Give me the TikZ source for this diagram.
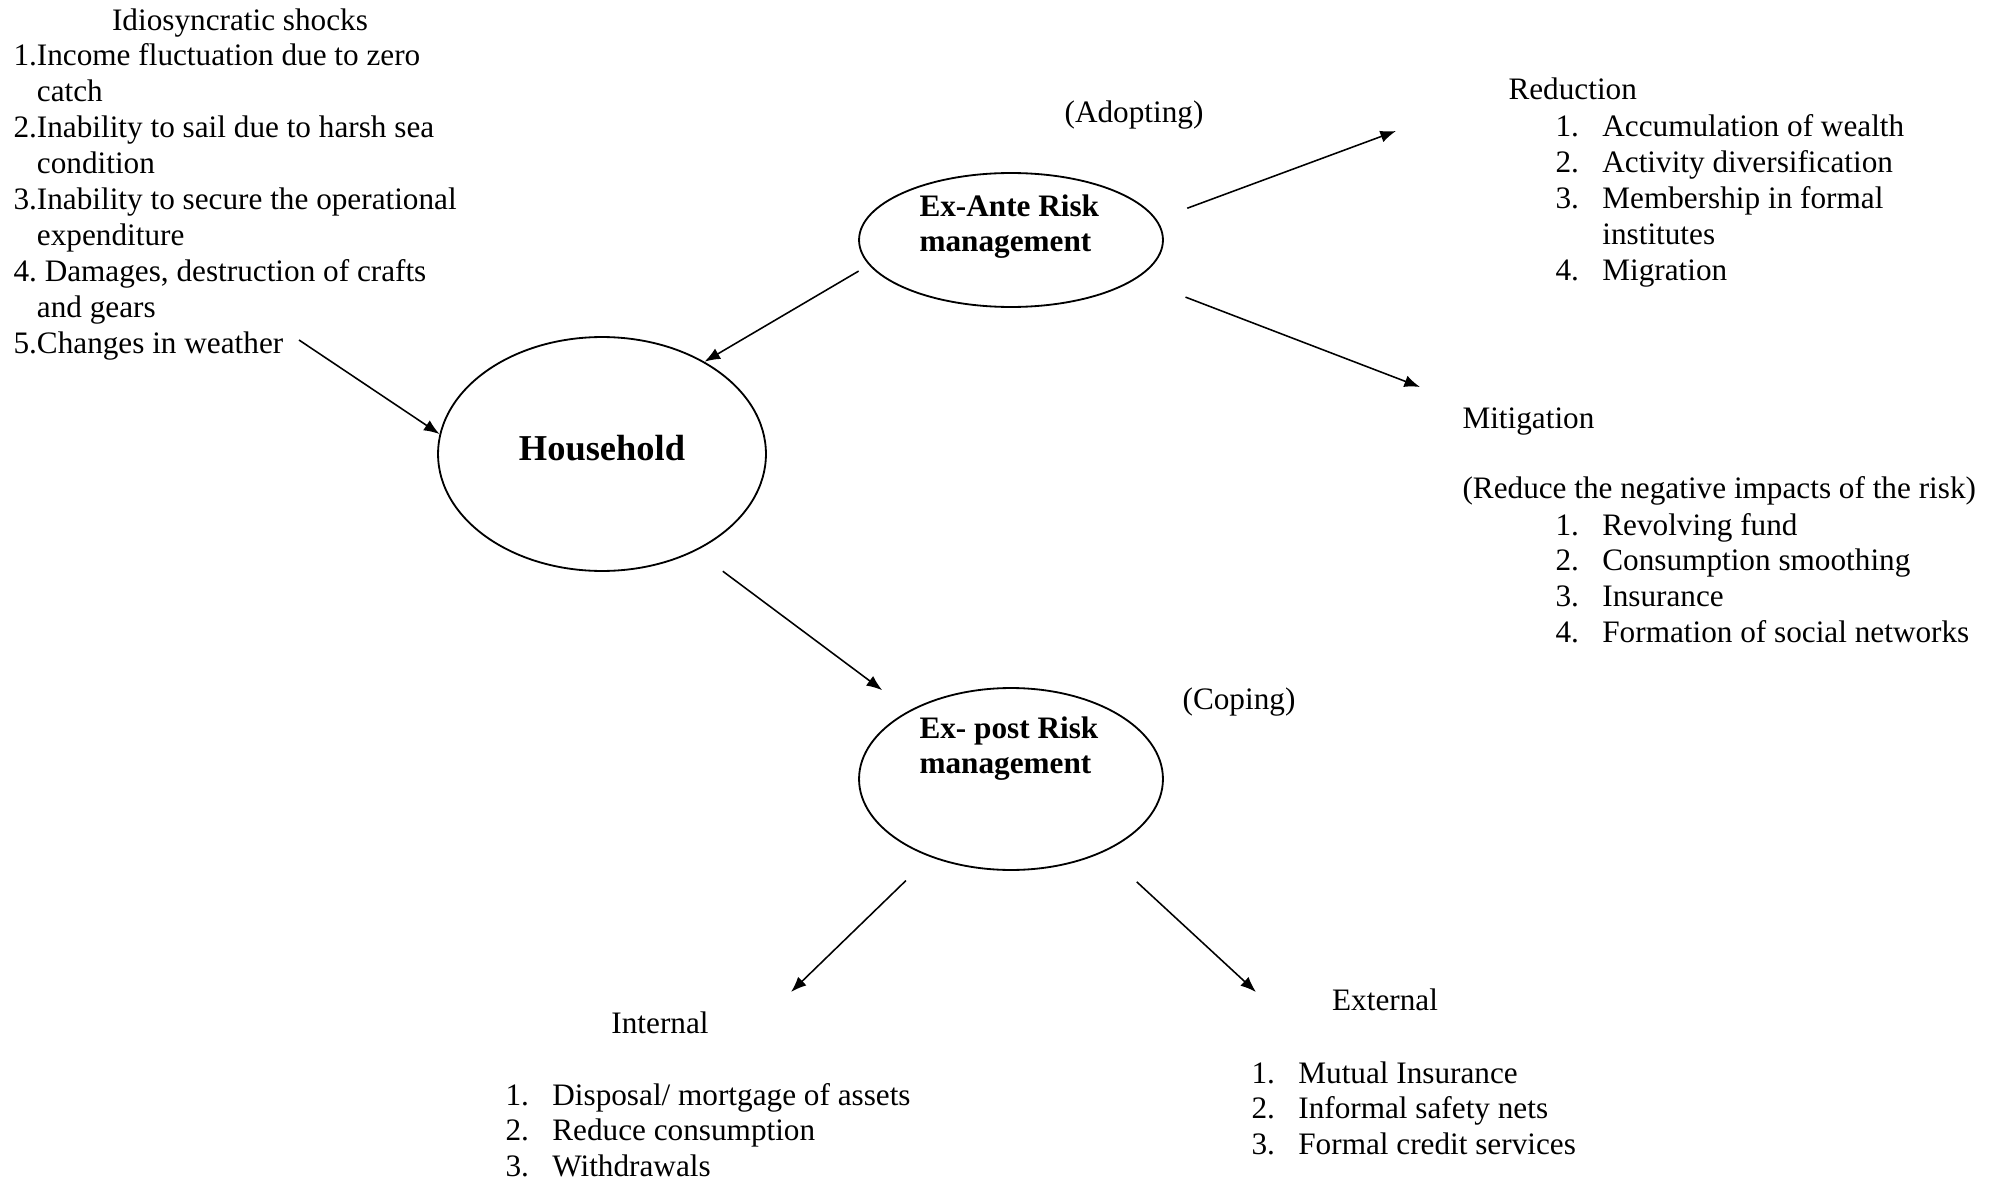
\documentclass[tikz,border=0pt]{standalone}
\usepackage{fontspec}
\setmainfont{Liberation Serif}
\usetikzlibrary{arrows.meta,shapes.geometric}
\tikzset{
  txt/.style={inner sep=0pt, font=\fontsize{12}{13.8}\selectfont},
  headtxt/.style={inner sep=0pt, font=\fontsize{12}{13.8}\selectfont\bfseries},
  bubble/.style={draw, ellipse, inner sep=0pt, line width=0.7pt},
  arr/.style={-{Latex[length=6pt,width=4.6pt]}, line width=0.6pt},
}
\newcommand{\numlist}[1]{\begin{tabular}[t]{@{}p{18pt}@{}l@{}}#1\end{tabular}}
\begin{document}
\begin{tikzpicture}[x=0.0135cm, y=-0.0135cm]
    \useasboundingbox (0,0) rectangle (1995,1180);
    \node[bubble, minimum width=4.428cm, minimum height=3.159cm] (household) at (602,454) {};
    \node[bubble, minimum width=4.104cm, minimum height=1.809cm] (exante) at (1011,240) {};
    \node[bubble, minimum width=4.104cm, minimum height=2.457cm] (expost) at (1011,779) {};
    \node[inner sep=0pt, anchor=base, font=\fontsize{14}{16}\selectfont\bfseries] (hhtxt) at (602,460) {Household};
    \node[headtxt, anchor=base west] (exantetxt) at (919,216) {\begin{tabular}[t]{@{}l@{}}Ex-Ante Risk\\management\end{tabular}};
    \node[headtxt, anchor=base west] (exposttxt) at (919,738) {\begin{tabular}[t]{@{}l@{}}Ex- post Risk\\management\end{tabular}};
    \node[txt, anchor=base] (adopting) at (1134,123) {(Adopting)};
    \node[txt, anchor=base] (coping) at (1239,709) {(Coping)};

    \node[txt, anchor=base] (shockhead) at (240,31) {Idiosyncratic shocks};
    \node[txt, anchor=base west] (shocks) at (13,66) {\begin{tabular}[t]{@{}l@{}l@{}}
        1.&Income fluctuation due to zero\\ &catch\\
        2.&Inability to sail due to harsh sea\\ &condition\\
        3.&Inability to secure the operational\\ &expenditure\\
        4.&\ Damages, destruction of crafts\\ &and gears\\
        5.&Changes in weather\end{tabular}};

    \node[txt, anchor=base west] (reduction) at (1508,100) {Reduction};
    \node[txt, anchor=base west] (redlist) at (1555,137) {\numlist{1.&Accumulation of wealth\\ 2.&Activity diversification\\ 3.&Membership in formal\\ &institutes\\ 4.&Migration}};
    \node[txt, anchor=base west] (mitigation) at (1462,428) {Mitigation};
    \node[txt, anchor=base west] (mitnote) at (1462,498) {(Reduce the negative impacts of the risk)};
    \node[txt, anchor=base west] (mitlist) at (1555,535) {\numlist{1.&Revolving fund\\ 2.&Consumption smoothing\\ 3.&Insurance\\ 4.&Formation of social networks}};

    \node[txt, anchor=base] (internal) at (660,1033) {Internal};
    \node[txt, anchor=base west] (intlist) at (505,1105) {\numlist{1.&Disposal/ mortgage of assets\\ 2.&Reduce consumption\\ 3.&Withdrawals}};
    \node[txt, anchor=base] (external) at (1385,1010) {External};
    \node[txt, anchor=base west] (extlist) at (1251,1083) {\numlist{1.&Mutual Insurance\\ 2.&Informal safety nets\\ 3.&Formal credit services}};

    \coordinate (shocktail) at (299,340);
    \coordinate (redtip) at (1396,131);
    \coordinate (mittip) at (1420,387);
    \coordinate (inttip) at (791,992);
    \coordinate (exttip) at (1256,992);

    \draw[arr] (shocktail) -- (household.173);
    \draw[arr, shorten <=4.6pt] (exante.190) -- (household.42);
    \draw[arr, shorten <=12.5pt] (exante.8) -- (redtip);
    \draw[arr, shorten <=20pt] (exante.343) -- (mittip);
    \draw[arr, shorten <=13pt, shorten >=13pt] (household.314) -- (expost.146);
    \draw[arr, shorten <=13pt] (expost.224) -- (inttip);
    \draw[arr, shorten <=17pt] (expost.322) -- (exttip);
\end{tikzpicture}
\end{document}
